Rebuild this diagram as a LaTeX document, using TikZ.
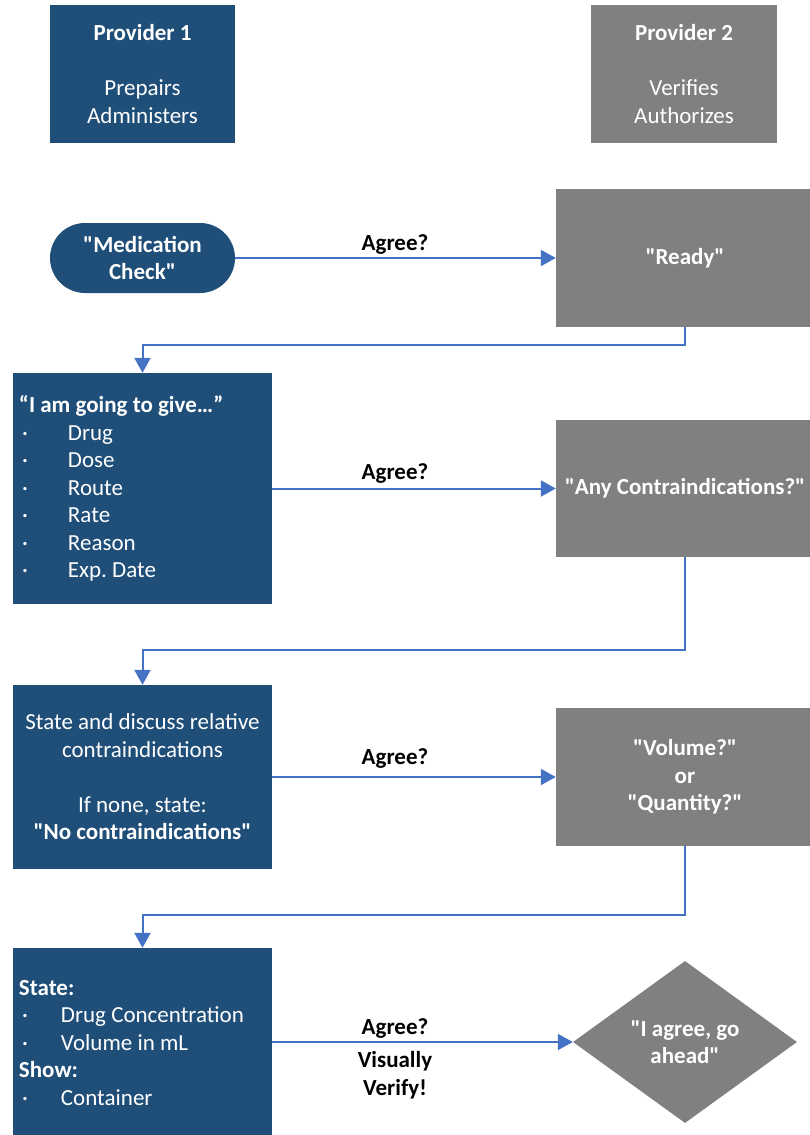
\documentclass[tikz,border=0pt]{standalone}
\usepackage{fontspec}
\setmainfont{Carlito}[Ligatures=TeXOff]
\usetikzlibrary{arrows.meta,shapes.geometric}
\definecolor{navy}{RGB}{31,78,121}
\definecolor{grayb}{RGB}{128,128,128}
\definecolor{arrowblue}{RGB}{68,114,196}
\newcommand{\fs}{\fontsize{23pt}{27.5pt}\selectfont}
\newcommand{\bl}[2]{\makebox[#1][l]{\hspace{3pt}\textperiodcentered}#2}
\frenchspacing
\begin{document}
\begin{tikzpicture}[x=1pt,y=-1pt,
  every node/.style={font=\fs},
  navybox/.style={fill=navy, text=white, inner sep=0pt, align=center},
  graybox/.style={fill=grayb, text=white, inner sep=0pt, align=center, font=\fs\bfseries},
  arr/.style={draw=arrowblue, line width=2pt, -{Triangle[length=15pt,width=16pt]}},
  lbl/.style={font=\fs\bfseries, text=black, align=center, inner sep=0pt}]
\useasboundingbox (0,0) rectangle (809,1135);

% header boxes
\node[navybox, minimum width=185pt, minimum height=138pt] (prov1) at (142.5,74)
  {\textbf{Provider 1}\\[27.5pt]Prepairs\\Administers};
\node[graybox, font=\fs, minimum width=186pt, minimum height=138pt] (prov2) at (684,74)
  {\textbf{Provider 2}\\[27.5pt]Verifies\\Authorizes};

% row 1
\node[navybox, font=\fs\bfseries, rounded corners=35pt, minimum width=185pt, minimum height=70pt] (mc) at (142.5,258)
  {"Medication\\Check"};
\node[graybox, minimum width=258pt, minimum height=138pt] (r1) at (685,258) {"Ready"};

% row 2
\node[navybox, minimum width=259pt, minimum height=231pt, text width=247pt, align=flush left] (b2) at (142.5,488.5)
  {\textbf{“I am going to give…”}\\
   \bl{49pt}{Drug}\\
   \bl{49pt}{Dose}\\
   \bl{49pt}{Route}\\
   \bl{49pt}{Rate}\\
   \bl{49pt}{Reason}\\
   \bl{49pt}{Exp. Date}};
\node[graybox, minimum width=258pt, minimum height=137pt] (r2) at (685,488.5) {"Any Contraindications?"};

% row 3
\node[navybox, minimum width=259pt, minimum height=184pt] (b3) at (142.5,777)
  {State and discuss relative\\contraindications\\[27.5pt]If none, state:\\\textbf{"No contraindications"}};
\node[graybox, minimum width=258pt, minimum height=138pt] (r3) at (685,777)
  {"Volume?"\\or\\"Quantity?"};

% row 4
\node[navybox, minimum width=259pt, minimum height=190pt, text width=247pt, align=flush left] (b4) at (142.5,1043)
  {\textbf{State:}\\
   \bl{42pt}{Drug Concentration}\\
   \bl{42pt}{Volume in mL}\\
   \textbf{Show:}\\
   \bl{42pt}{Container}};
\node[diamond, fill=grayb, text=white, font=\fs\bfseries, align=center, inner sep=0pt,
      minimum width=224pt, minimum height=162pt] (d4) at (685,1042)
  {"I agree, go\\ahead"};

% horizontal arrows
\draw[arr] (mc.east) -- (r1.west);
\draw[arr] (b2.east) -- (r2.west);
\draw[arr] (b3.east) -- (r3.west);
\draw[arr] (d4.west -| b4.east) -- (d4.west);

% labels
\node[lbl] (q1) at (395,245) {Agree?};
\node[lbl] (q2) at (395,474) {Agree?};
\node[lbl] (q3) at (395,758) {Agree?};
\node[lbl] (q4) at (395,1028) {Agree?};
\node[lbl] (v4) at (395,1075) {Visually\\Verify!};

% return connectors
\draw[arr] (r1.south) -- ++(0,18) -| (b2.north);
\draw[arr] (r2.south) -- ++(0,93) -| (b3.north);
\draw[arr] (r3.south) -- ++(0,69) -| (b4.north);
\end{tikzpicture}
\end{document}
